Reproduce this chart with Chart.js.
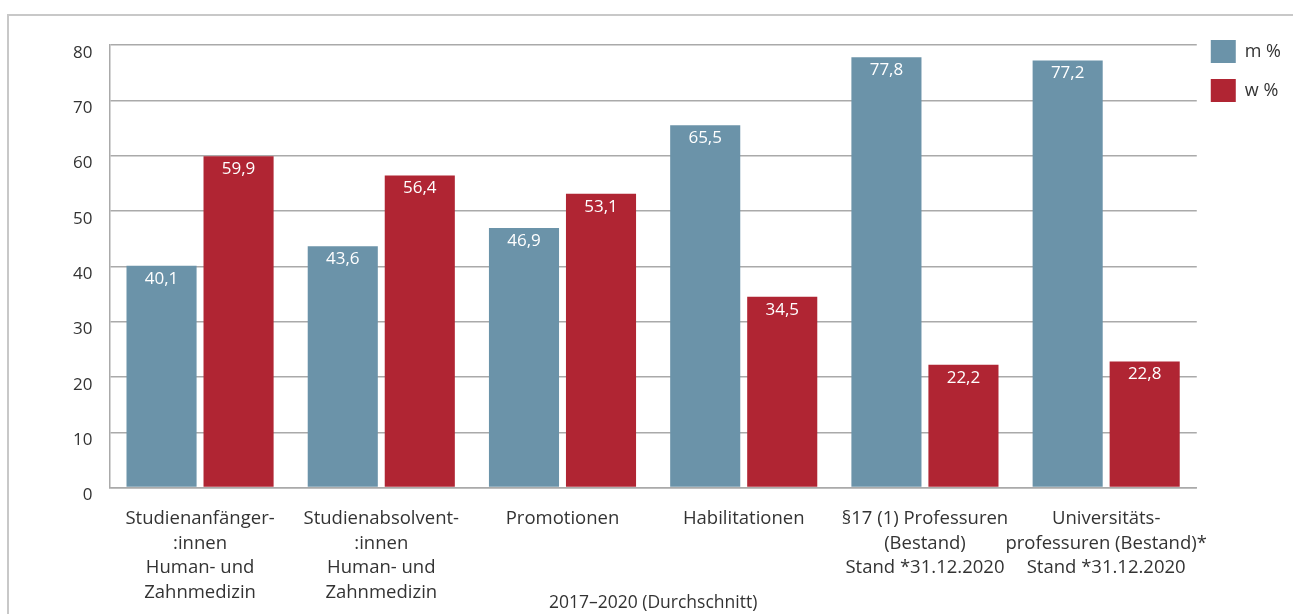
<!DOCTYPE html>
<html>
<head>
<meta charset="utf-8">
<script src="https://cdn.jsdelivr.net/npm/chart.js@4/dist/chart.umd.min.js"></script>
<style>
  html, body { margin: 0; padding: 0; background: #fff; overflow: hidden; }
  #frame { position: absolute; left: 7px; top: 14px; width: 1300px; height: 620px;
           border-top: 2px solid #c8c8c8; border-left: 2px solid #c8c8c8; }
  #wrap { position: absolute; left: 0; top: 0; width: 1293px; height: 614px; }
</style>
</head>
<body>
<div id="frame"></div>
<div id="wrap"><canvas id="myChart"></canvas></div>
<script>
var categories = [
  ['Studienanfänger-', ':innen', 'Human- und', 'Zahnmedizin'],
  ['Studienabsolvent-', ':innen', 'Human- und', 'Zahnmedizin'],
  'Promotionen',
  'Habilitationen',
  ['§17 (1) Professuren', '(Bestand)', 'Stand *31.12.2020'],
  ['Universitäts-', 'professuren (Bestand)*', 'Stand *31.12.2020']
];
var maleValues = [40.1, 43.6, 46.9, 65.5, 77.8, 77.2];
var femaleValues = [59.9, 56.4, 53.1, 34.5, 22.2, 22.8];
var yTicks = [0, 10, 20, 30, 40, 50, 60, 70, 80];

var fontFamily = '"Open Sans", "Noto Sans", sans-serif';
Chart.defaults.font.family = fontFamily;
Chart.defaults.color = '#333';

// white value labels inside the top of each bar
var barLabels = {
  id: 'barLabels',
  afterDatasetsDraw: function(chart) {
    var ctx = chart.ctx;
    ctx.save();
    ctx.fillStyle = '#fff';
    ctx.font = '17px ' + fontFamily;
    ctx.textAlign = 'center';
    ctx.textBaseline = 'middle';
    chart.data.datasets.forEach(function(ds, i) {
      chart.getDatasetMeta(i).data.forEach(function(bar, j) {
        ctx.fillText(String(ds.data[j]).replace('.', ','), bar.x, bar.y + 13);
      });
    });
    ctx.restore();
  }
};

// legend sits a bit higher than the plot top
var legendUp = {
  id: 'legendUp',
  afterLayout: function(chart) {
    chart.legend.top -= 21;
    chart.legend.bottom -= 21;
    chart.legend.left -= 2;
    chart.legend.right -= 2;
  }
};

var ctx = document.getElementById('myChart').getContext('2d');
var myChart = new Chart(ctx, {
  type: 'bar',
  data: {
    labels: categories,
    datasets: [{
      label: 'm %',
      data: maleValues,
      backgroundColor: '#6b93a9',
      categoryPercentage: 0.85,
      barPercentage: 0.91
    }, {
      label: 'w %',
      data: femaleValues,
      backgroundColor: '#b02533',
      categoryPercentage: 0.85,
      barPercentage: 0.91
    }]
  },
  options: {
    responsive: true,
    maintainAspectRatio: false,
    animation: false,
    layout: {
      padding: { left: 56, right: 0, top: 45, bottom: 0 }
    },
    plugins: {
      legend: {
        position: 'right',
        align: 'start',
        labels: {
          boxWidth: 25,
          boxHeight: 23,
          padding: 16,
          font: { size: 18 },
          color: '#333'
        }
      },
      tooltip: { enabled: false }
    },
    scales: {
      y: {
        min: 0,
        max: 80,
        afterBuildTicks: function(scale) {
          scale.ticks = yTicks.map(function(v) { return { value: v }; });
        },
        grid: { color: '#aaa', lineWidth: 1.5, drawTicks: false },
        border: { display: true, color: '#aaa', width: 1.5 },
        ticks: { padding: 17, labelOffset: 8, font: { size: 17 }, color: '#333' }
      },
      x: {
        grid: { display: false },
        border: { display: true, color: '#aaa', width: 1.5 },
        ticks: { padding: 11, font: { size: 18.5, lineHeight: 1.33 }, color: '#333', maxRotation: 0, autoSkip: false },
        title: {
          display: true,
          text: '2017–2020 (Durchschnitt)',
          font: { size: 17.5 },
          color: '#333',
          padding: { top: -23, bottom: 0 }
        }
      }
    }
  },
  plugins: [barLabels, legendUp]
});
</script>
</body>
</html>
